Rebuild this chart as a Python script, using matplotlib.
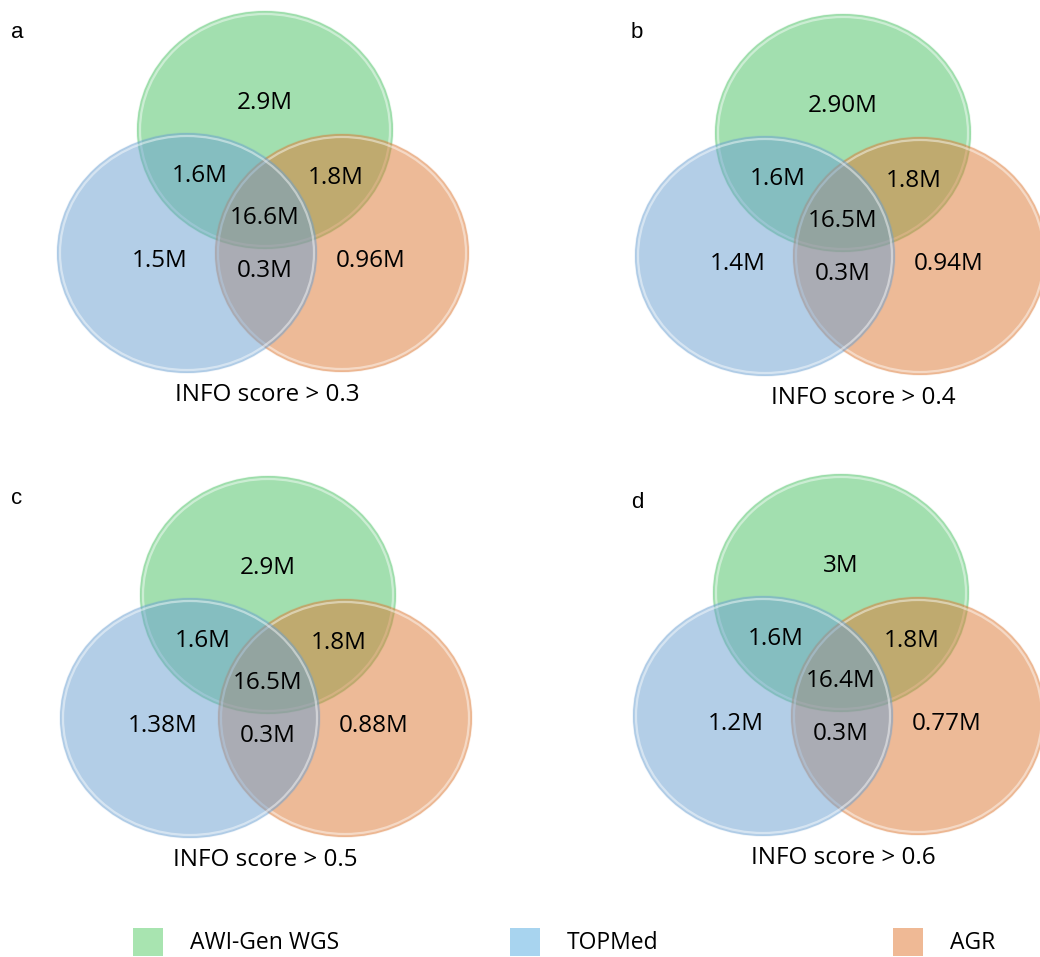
import matplotlib.pyplot as plt
from matplotlib.patches import Ellipse, Rectangle

# counts per region, one entry per INFO score cut-off
panels = ["a", "b", "c", "d"]
thresholds = ["0.3", "0.4", "0.5", "0.6"]
awi_only = ["2.9M", "2.90M", "2.9M", "3M"]
topmed_only = ["1.5M", "1.4M", "1.38M", "1.2M"]
agr_only = ["0.96M", "0.94M", "0.88M", "0.77M"]
awi_topmed = ["1.6M", "1.6M", "1.6M", "1.6M"]
awi_agr = ["1.8M", "1.8M", "1.8M", "1.8M"]
topmed_agr = ["0.3M", "0.3M", "0.3M", "0.3M"]
all_three = ["16.6M", "16.5M", "16.5M", "16.4M"]

sets = ["AWI-Gen WGS", "TOPMed", "AGR"]
set_colors = ["#47c161", "#699fd1", "#dd7731"]
legend_colors = ["#a8e4b0", "#a8d4ef", "#efb995"]

W, H = 1040, 957
fig = plt.figure(figsize=(W / 100, H / 100), dpi=100)
ax = fig.add_axes([0, 0, 1, 1])
ax.set_xlim(0, W)
ax.set_ylim(H, 0)
ax.set_aspect("equal")
ax.axis("off")

# centre of the green circle in each panel, in pixels
origins = [(265, 130), (843, 133), (268, 595), (841, 593)]
title_dx = [2, 20, -3, 2]
letter_pos = [(17, 33), (637, 33), (17, 498), (637, 502)]

# circle offsets from the green centre: (dx, dy, width, height), drawn green, orange, blue
circles = {
    "AWI-Gen WGS": (0, 0, 256, 238),
    "AGR": (77, 123, 254, 238),
    "TOPMed": (-78, 123, 260, 240),
}
draw_order = ["AWI-Gen WGS", "AGR", "TOPMed"]

font = ["Open Sans", "DejaVu Sans"]

for i, (ox, oy) in enumerate(origins):
    for name in draw_order:
        dx, dy, w, h = circles[name]
        col = set_colors[sets.index(name)]
        ax.add_patch(Ellipse((ox + dx, oy + dy), w, h, facecolor=col, alpha=0.5,
                             edgecolor="none"))
        ax.add_patch(Ellipse((ox + dx, oy + dy), w - 6, h - 6, facecolor="none",
                             edgecolor="white", alpha=0.45, lw=1.6))
        ax.add_patch(Ellipse((ox + dx, oy + dy), w, h, facecolor="none",
                             edgecolor=col, alpha=0.12, lw=1.0))

    labels = [
        (awi_only[i], 0, -27),
        (awi_topmed[i], -65, 46),
        (awi_agr[i], 71, 48),
        (all_three[i], 0, 88),
        (topmed_only[i], -105, 131),
        (topmed_agr[i], 0, 141),
        (agr_only[i], 106, 131),
    ]
    for txt, dx, dy in labels:
        ax.text(ox + dx, oy + dy, txt, ha="center", va="center", fontsize=17.5,
                family=font, color="black")

    ax.text(ox + title_dx[i], oy + 265, "INFO score > " + thresholds[i], ha="center",
            va="center", fontsize=17.5, family=font, color="black")
    ax.text(letter_pos[i][0], letter_pos[i][1], panels[i], ha="center", va="center",
            fontsize=16, family=["Liberation Sans", "DejaVu Sans"])

# legend row along the bottom
legend_x = [133, 510, 893]
for x, name, col in zip(legend_x, sets, legend_colors):
    ax.add_patch(Rectangle((x, 928), 30, 28, facecolor=col, edgecolor="none"))
    ax.text(x + 57, 943, name, ha="left", va="center", fontsize=16.5, family=font)

fig.savefig("out.png", dpi=100)
